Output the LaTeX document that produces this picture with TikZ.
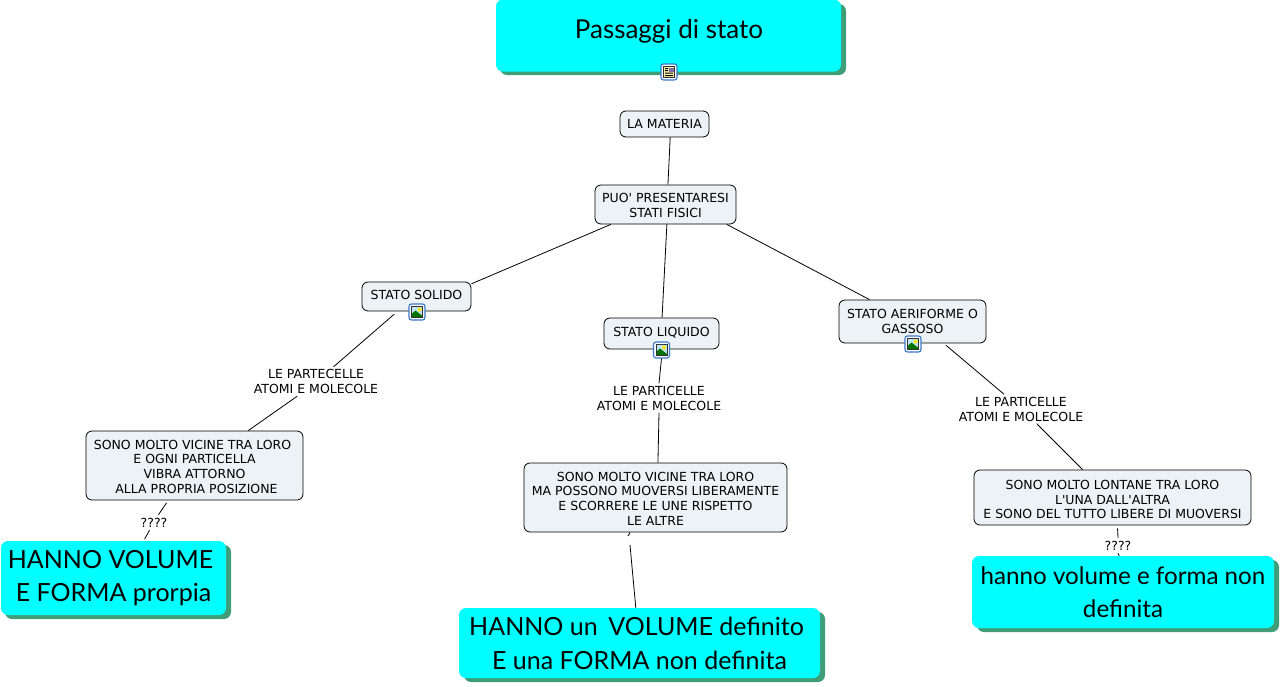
\documentclass[tikz,border=0pt]{standalone}
\usepackage{fontspec}
\setmainfont{DejaVu Sans}[Ligatures=TeXOff]
\newfontfamily\bigfont{Lato}
\definecolor{paleblue}{HTML}{ECF2F6}
\definecolor{aqua}{HTML}{00FFFF}
\definecolor{shade}{HTML}{3F9E78}
\definecolor{iconblue}{HTML}{3A78C8}
\definecolor{skyblue}{HTML}{BFE4F5}
\definecolor{docyellow}{HTML}{FFF6B0}
\tikzset{
  x=1pt,y=-1pt,
  concept/.style={draw=black,line width=0.8pt,fill=paleblue,rounded corners=6pt,inner sep=0pt,align=center,font=\fontsize{12.5}{14.7}\selectfont},
  headline/.style={draw=none,fill=aqua,rounded corners=7pt,inner sep=0pt,align=center},
  shadowbox/.style={fill=shade,rounded corners=7pt},
  linklabel/.style={inner sep=0pt,align=center,font=\fontsize{12.5}{15}\selectfont},
  link/.style={line width=0.8pt,black},
  iconbox/.style={draw=iconblue,line width=1.1pt,fill=white,rounded corners=2.5pt,minimum size=16pt,inner sep=0pt},
}
\newcommand{\lowerone}{\rule{0pt}{11.4pt}}
\newcommand{\lowertwo}{\rule{0pt}{13.4pt}}
\newcommand{\imgicon}[3]{%
  \node[iconbox] (#1) at (#2,#3) {};
  \fill[skyblue] (#2-5.5,#3-5.5) rectangle (#2+5.5,#3+5.5);
  \fill[yellow!90!orange] (#2+2.5,#3-2.5) circle (2pt);
  \fill[green!45!black] (#2-5.5,#3+5.5) -- (#2-5.5,#3+2) -- (#2-1.5,#3-1.5) -- (#2+5.5,#3+4) -- (#2+5.5,#3+5.5) -- cycle;
  \draw[black!80,line width=0.6pt] (#2-5.5,#3-5.5) rectangle (#2+5.5,#3+5.5);
}
\begin{document}
\begin{tikzpicture}
\useasboundingbox (0,0) rectangle (1280,686);
% shadows
\fill[shadowbox] (500,4) rectangle (846,75);
\fill[shadowbox] (5,545) rectangle (231,619);
\fill[shadowbox] (464,612) rectangle (825,682);
\fill[shadowbox] (977,560) rectangle (1279,632);
% headline boxes
\node[headline,minimum width=345pt,minimum height=72pt] (title) at (668.5,35.5) {};
\node[inner sep=0pt,font=\bigfont\fontsize{26}{33}\selectfont] (titletext) at (669,31) {Passaggi di stato};
\node[headline,font=\bigfont\fontsize{25}{33.5}\selectfont,minimum width=225pt,minimum height=74pt] (hsol) at (113.5,578) {HANNO VOLUME\hspace*{6pt}\\ E FORMA prorpia};
\node[headline,font=\bigfont\fontsize{25}{34}\selectfont,minimum width=361pt,minimum height=70pt] (hliq) at (639.5,643) {HANNO un\, VOLUME definito\hspace*{6pt}\\ E una FORMA non definita};
\node[headline,font=\bigfont\fontsize{24.2}{33}\selectfont,minimum width=302pt,minimum height=72pt] (hgas) at (1123,592) {hanno volume e forma non\\definita};
% concept boxes
\node[concept,minimum width=89pt,minimum height=26pt] (materia) at (664.5,124) {LA MATERIA};
\node[concept,minimum width=141pt,minimum height=39pt] (puo) at (665.5,204.5) {\lowerone PUO' PRESENTARESI\\STATI FISICI};
\node[concept,minimum width=109pt,minimum height=29pt,anchor=center] (solido) at (416.5,296.5) {\raisebox{3pt}{STATO SOLIDO}};
\node[concept,minimum width=115pt,minimum height=31pt] (liquido) at (661.5,333.5) {\raisebox{4pt}{STATO LIQUIDO}};
\node[concept,minimum width=147pt,minimum height=43pt] (aeri) at (912.5,321.5) {STATO AERIFORME O\\GASSOSO};
\node[concept,minimum width=217pt,minimum height=69pt] (bsol) at (194.5,465.5) {\lowerone SONO MOLTO VICINE TRA LORO\hspace*{4pt}\\E OGNI PARTICELLA\\VIBRA ATTORNO\\\hspace*{4pt}ALLA PROPRIA POSIZIONE};
\node[concept,minimum width=263pt,minimum height=69pt] (bliq) at (655.5,497.5) {\lowerone SONO MOLTO VICINE TRA LORO\\MA POSSONO MUOVERSI LIBERAMENTE\hspace*{8pt}\\E SCORRERE LE UNE RISPETTO\\LE ALTRE};
\node[concept,minimum width=277pt,minimum height=55pt] (bgas) at (1112.5,497.5) {\lowertwo SONO MOLTO LONTANE TRA LORO\\L'UNA DALL'ALTRA\\E SONO DEL TUTTO LIBERE DI MUOVERSI};
% labels
\node[linklabel,minimum height=29pt] (lsol) at (316,381.5) {LE PARTECELLE\\ATOMI E MOLECOLE};
\node[linklabel,minimum height=29pt] (lliq) at (659,398) {LE PARTICELLE\\ATOMI E MOLECOLE};
\node[linklabel,minimum height=29pt] (lgas) at (1021,409) {LE PARTICELLE\\ATOMI E MOLECOLE};
\node[linklabel,minimum height=15pt] (qsol) at (154,522.5) {????};
\node[linklabel,minimum height=15pt] (qgas) at (1118,545.5) {????};
\coordinate (kupper) at (628,536);
\coordinate (klower) at (630,545);
% icons
\node[iconbox] (icontitle) at (669,72) {};
\fill[docyellow] (663.5,66.5) rectangle (674.5,77.5);
\draw[black!80,line width=0.6pt] (663.5,66.5) rectangle (674.5,77.5);
\fill[black] (665,68) rectangle (668,69) (665,70) rectangle (668,71) (665,72.5) rectangle (673,73.5) (665,75) rectangle (673,76);
\fill[black!40!cyan!60!magenta] (669,67.5) rectangle (673.5,71.5);
\imgicon{iconsol}{417}{312}
\imgicon{iconliq}{661.5}{350}
\imgicon{icongas}{913}{344}
% connectors
\draw[link] (materia.-67) -- (puo.83);
\draw[link] (puo.200) -- (solido.13);
\draw[link] (puo.-86) -- (liquido.88);
\draw[link] (puo.-18) -- (aeri.153);
\draw[link,shorten <=4pt] (solido.218) -- (lsol.40);
\draw[link] (lsol.218) -- (bsol.33);
\draw[link] (iconliq.south) -- (lliq.north);
\draw[link] (lliq.south) -- (bliq.86);
\draw[link,shorten <=3pt] (aeri.-35) -- (lgas.139);
\draw[link] (lgas.-43) -- (bgas.137);
\draw[link,shorten <=3pt] (bsol.233.5) -- (qsol.60);
\draw[link,shorten >=2pt] (qsol.-120) -- (hsol.51.4);
\draw[link] (bliq.234.7) -- (kupper);
\draw[link] (klower) -- (hliq.96);
\draw[link,shorten <=3pt] (bgas.-80.7) -- (qgas.north);
\draw[link] (qgas.south) -- (hgas.96);
\end{tikzpicture}
\end{document}
